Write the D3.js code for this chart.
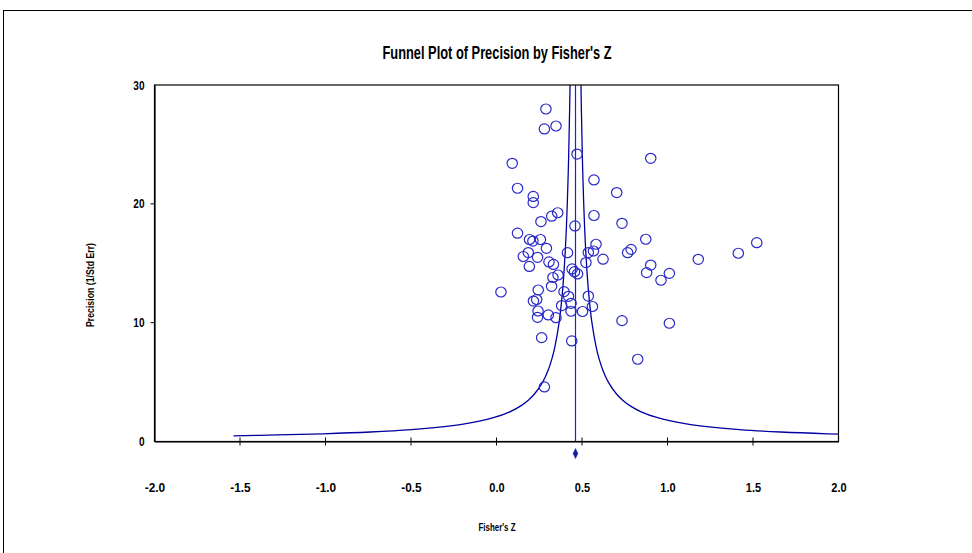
<!DOCTYPE html>
<html>
<head>
<meta charset="utf-8">
<script src="https://cdn.jsdelivr.net/npm/d3@7"></script>
<style>
  html, body { margin: 0; padding: 0; background: #fff; }
  svg { display: block; }
  text { font-family: "Liberation Sans Narrow", "Arial Narrow", "Liberation Sans", Arial, sans-serif; }
</style>
</head>
<body>
<svg id="chart" width="972" height="553"></svg>
<script>
// ---- data ----
const chartTitle = "Funnel Plot of Precision by Fisher's Z";
const xTitle = "Fisher's Z";
const yTitle = "Precision (1/Std Err)";
const xTicks = [-2.0, -1.5, -1.0, -0.5, 0.0, 0.5, 1.0, 1.5, 2.0];
const yTicks = [0, 10, 20, 30];

// study Fisher's Z values
const studyZ = [
  0.289, 0.280, 0.348, 0.471, 0.092, 0.902, 0.123, 0.570, 0.703, 0.215,
  0.215, 0.260, 0.323, 0.358, 0.570, 0.734, 0.459, 0.123, 0.873, 1.522,
  1.414, 0.193, 0.213, 0.257, 0.582, 0.292, 0.186, 0.157, 0.240, 0.415,
  0.537, 0.567, 0.623, 0.787, 0.767, 1.180, 0.523, 0.192, 0.307, 0.333,
  0.442, 0.456, 0.474, 0.360, 0.330, 0.902, 0.878, 1.011, 0.962, 0.322,
  0.026, 0.244, 0.395, 0.421, 0.537, 0.216, 0.235, 0.436, 0.381, 0.561,
  0.243, 0.240, 0.303, 0.348, 0.436, 0.503, 0.734, 1.011, 0.264, 0.440,
  0.826, 0.280
];
// study precision (1 / SE)
const studyPrecision = [
  27.98, 26.30, 26.55, 24.19, 23.41, 23.83, 21.31, 22.01, 20.95, 20.62,
  20.10, 18.51, 18.96, 19.25, 19.02, 18.36, 18.14, 17.53, 17.02, 16.73,
  15.84, 17.00, 16.87, 17.00, 16.60, 16.26, 15.90, 15.57, 15.50, 15.89,
  15.90, 16.03, 15.34, 16.17, 15.89, 15.33, 15.06, 14.73, 15.11, 14.90,
  14.52, 14.29, 14.10, 14.01, 13.80, 14.85, 14.21, 14.15, 13.57, 13.06,
  12.58, 12.75, 12.61, 12.22, 12.24, 11.82, 11.95, 11.63, 11.44, 11.36,
  10.98, 10.45, 10.65, 10.42, 10.96, 10.94, 10.17, 9.95, 8.74, 8.46,
  6.92, 4.59
];
// pooled estimate and its CI (diamond)
const pooledZ = 0.462;
const pooledLow = 0.448;
const pooledHigh = 0.476;
// pseudo confidence limit constant and precision levels used to trace the funnel
const funnelK = 0.96;
const funnelPrecisionLevels = [0.48, 0.55, 0.65, 0.8, 1, 1.25, 1.5, 2, 2.5, 3, 3.5, 4, 5, 6, 7, 8, 10, 12, 14, 17, 20, 24, 28, 32];

// ---- layout ----
const svg = d3.select("#chart");
const x = d3.scaleLinear().domain([-2, 2]).range([154.5, 838.5]);
const y = d3.scaleLinear().domain([0, 30]).range([441.5, 85]);
const blue = "#0000a0";
const pointBlue = "#2a2ac8";
const fmtX = d => d.toFixed(1);          // hyphen-minus like the reference
const charW = 5.1;                          // condensed label character width

// outer frame
svg.append("rect").attr("x", 3.5).attr("y", 10.5).attr("width", 1000).attr("height", 600)
  .attr("fill", "none").attr("stroke", "#000").attr("stroke-width", 1);

// title
svg.append("text").attr("x", 497).attr("y", 59).attr("text-anchor", "middle")
  .attr("font-size", 18).attr("font-weight", "bold")
  .attr("textLength", 229).attr("lengthAdjust", "spacingAndGlyphs")
  .text(chartTitle);

// clip
svg.append("clipPath").attr("id", "plotclip").append("rect")
  .attr("x", x(-2)).attr("y", y(30)).attr("width", x(2) - x(-2)).attr("height", y(0) - y(30));

const plot = svg.append("g").attr("clip-path", "url(#plotclip)");

// funnel limits
const leftPts = funnelPrecisionLevels.map(p => [pooledZ - funnelK / p, p]);
const rightPts = funnelPrecisionLevels.map(p => [pooledZ + funnelK / p, p]);
const lineGen = d3.line().x(d => x(d[0])).y(d => y(d[1])).curve(d3.curveCatmullRom.alpha(0.5));
plot.append("path").attr("d", lineGen(leftPts)).attr("fill", "none").attr("stroke", blue).attr("stroke-width", 1.3);
plot.append("path").attr("d", lineGen(rightPts)).attr("fill", "none").attr("stroke", blue).attr("stroke-width", 1.3);

// vertical pooled line
svg.append("line").attr("x1", x(pooledZ)).attr("x2", x(pooledZ)).attr("y1", y(30)).attr("y2", y(0))
  .attr("stroke", "#2222cc").attr("stroke-width", 1.2);

// points
svg.append("g").selectAll("ellipse").data(studyZ.map((z, i) => [z, studyPrecision[i]]))
  .join("ellipse")
  .attr("cx", d => x(d[0])).attr("cy", d => y(d[1]))
  .attr("rx", 5.2).attr("ry", 5)
  .attr("fill", "none").attr("stroke", pointBlue).attr("stroke-width", 1.2);

// plot box
svg.append("rect").attr("x", x(-2)).attr("y", y(30)).attr("width", x(2) - x(-2)).attr("height", y(0) - y(30))
  .attr("fill", "none").attr("stroke", "#000").attr("stroke-width", 1.2);

// x axis
const xAxis = d3.axisBottom(x).tickValues(xTicks).tickSize(0).tickFormat(fmtX);
const gx = svg.append("g").attr("transform", `translate(0,${y(0)})`).call(xAxis);
gx.select(".domain").attr("stroke", "#000").attr("stroke-width", 1.2);
gx.selectAll(".tick text").attr("dy", 0).attr("y", 50).attr("font-size", 12.5).attr("font-weight", "bold")
  .attr("fill", "#000")
  .attr("textLength", d => fmtX(d).length * charW).attr("lengthAdjust", "spacingAndGlyphs");
gx.selectAll(".tick line").remove();
svg.append("g").selectAll("line").data(xTicks.filter(t => t > -2 && t < 2)).join("line")
  .attr("x1", d => x(d)).attr("x2", d => x(d)).attr("y1", y(0) - 4).attr("y2", y(0) + 4)
  .attr("stroke", "#000").attr("stroke-width", 1);

// diamond
const diamond = [[pooledLow, 0], [pooledZ, 1], [pooledHigh, 0], [pooledZ, -1]];
svg.append("path")
  .attr("d", "M" + diamond.map(d => [x(d[0]), y(0) + 12 - d[1] * 5].join(",")).join("L") + "Z")
  .attr("fill", "#1a1aa0").attr("stroke", "#1a1aa0").attr("stroke-width", 0.5);

// y axis
const yAxis = d3.axisLeft(y).tickValues(yTicks).tickSize(0).tickFormat(d3.format("d"));
const gy = svg.append("g").attr("transform", `translate(${x(-2)},0)`).call(yAxis);
gy.select(".domain").attr("stroke", "#000").attr("stroke-width", 1.2);
gy.selectAll(".tick text").attr("x", -10).attr("font-size", 12.5).attr("font-weight", "bold").attr("fill", "#000")
  .attr("textLength", d => String(d).length * 5.6).attr("lengthAdjust", "spacingAndGlyphs");
svg.append("g").selectAll("line").data(yTicks.filter(t => t > 0 && t < 30)).join("line")
  .attr("x1", x(-2) - 4).attr("x2", x(-2)).attr("y1", d => y(d)).attr("y2", d => y(d))
  .attr("stroke", "#000").attr("stroke-width", 1);

// axis titles
svg.append("text").attr("x", 497).attr("y", 531).attr("text-anchor", "middle")
  .attr("font-size", 11).attr("font-weight", "bold")
  .attr("textLength", 37).attr("lengthAdjust", "spacingAndGlyphs")
  .text(xTitle);
svg.append("text").attr("transform", "translate(94,285) rotate(-90)").attr("text-anchor", "middle")
  .attr("font-size", 11).attr("font-weight", "bold")
  .attr("textLength", 84).attr("lengthAdjust", "spacingAndGlyphs")
  .text(yTitle);
</script>
</body>
</html>
